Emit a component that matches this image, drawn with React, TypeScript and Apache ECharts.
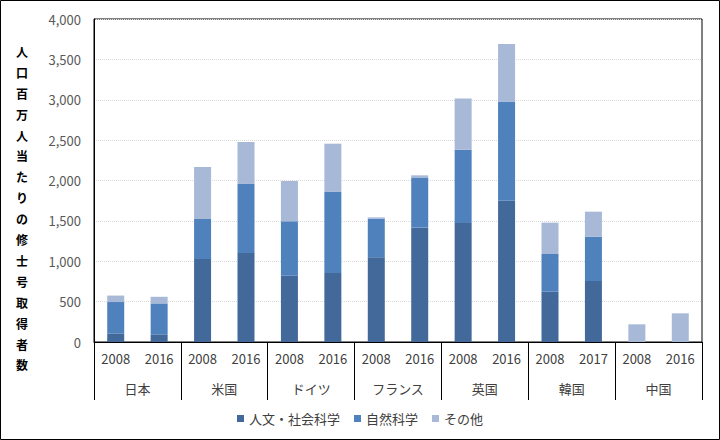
import React, { useEffect, useRef } from "react";
import * as echarts from "echarts";

const years = ["2008", "2016", "2008", "2016", "2008", "2016", "2008", "2016", "2008", "2016", "2008", "2017", "2008", "2016"];
const countries = ["日本", "米国", "ドイツ", "フランス", "英国", "韓国", "中国"];
const seriesNames = ["人文・社会科学", "自然科学", "その他"];
const humanities = [107, 95, 1028, 1102, 821, 855, 1048, 1416, 1474, 1750, 623, 755, null, null];
const natural = [388, 383, 495, 855, 673, 1003, 479, 615, 908, 1228, 467, 547, null, null];
const other = [80, 82, 644, 520, 500, 598, 17, 33, 635, 712, 388, 312, 219, 355];
const yTitle = "人口百万人当たりの修士号取得者数";
const yMin = 0;
const yMax = 4000;
const yStep = 500;

const colors = ["#43699b", "#4f81bd", "#a8b9d8"];
const FONT = "'Noto Sans CJK JP', 'Noto Sans', sans-serif";

export default function App() {
  const ref = useRef<HTMLDivElement>(null);
  useEffect(() => {
    if (!ref.current) return;
    const chart = echarts.init(ref.current, null, { renderer: "svg" });
    const values = [humanities, natural, other];
    chart.setOption({
      animation: false,
      textStyle: { fontFamily: FONT },
      grid: {
        left: 94,
        right: 18,
        top: 19,
        bottom: 98,
        show: true,
        borderColor: "#000",
        borderWidth: 1,
      },
      legend: {
        top: 407,
        left: "center",
        itemWidth: 7,
        itemHeight: 7,
        itemGap: 14,
        icon: "rect",
        textStyle: { fontSize: 13, color: "#404040", fontFamily: FONT },
        data: seriesNames,
      },
      xAxis: [
        {
          type: "category",
          data: years,
          position: "bottom",
          axisLine: { show: true, lineStyle: { color: "#000", width: 1 } },
          axisTick: { show: false },
          axisLabel: { interval: 0, margin: 10, fontSize: 13, color: "#404040", fontFamily: FONT },
          splitLine: { show: false },
        },
        {
          type: "category",
          data: countries,
          position: "bottom",
          axisLine: { show: false },
          axisTick: { show: true, interval: 0, length: 58, lineStyle: { color: "#000", width: 1 } },
          axisLabel: { interval: 0, margin: 40, fontSize: 13, color: "#404040", fontFamily: FONT },
          splitLine: { show: false },
        },
      ],
      yAxis: {
        type: "value",
        min: yMin,
        max: yMax,
        interval: yStep,
        axisLine: { show: true, lineStyle: { color: "#000" } },
        axisTick: { show: false },
        axisLabel: {
          margin: 13,
          fontSize: 13,
          color: "#595959",
          fontFamily: FONT,
          formatter: (v: number) => v.toLocaleString("en-US"),
        },
        splitLine: { show: true, lineStyle: { color: "#d9d9d9", type: "dotted", width: 1 } },
      },
      graphic: [
        {
          type: "rect",
          shape: { x: 0.5, y: 0.5, width: 719, height: 439 },
          style: { fill: "none", stroke: "#000", lineWidth: 1 },
          silent: true,
        },
        {
          type: "text",
          x: 22,
          y: 41,
          style: {
            text: yTitle.split("").join("\n"),
            font: `bold 12px ${FONT}`,
            fill: "#000",
            textAlign: "center",
            textVerticalAlign: "top",
            lineHeight: 20.9,
          },
        },
      ],
      series: seriesNames.map((name, i) => ({
        name,
        type: "bar",
        stack: "total",
        xAxisIndex: 0,
        barWidth: 17,
        itemStyle: { color: colors[i] },
        data: values[i],
      })),
    });
    return () => chart.dispose();
  }, []);
  return <div ref={ref} style={{ position: "absolute", left: 0, top: 0, width: 720, height: 440 }} />;
}
